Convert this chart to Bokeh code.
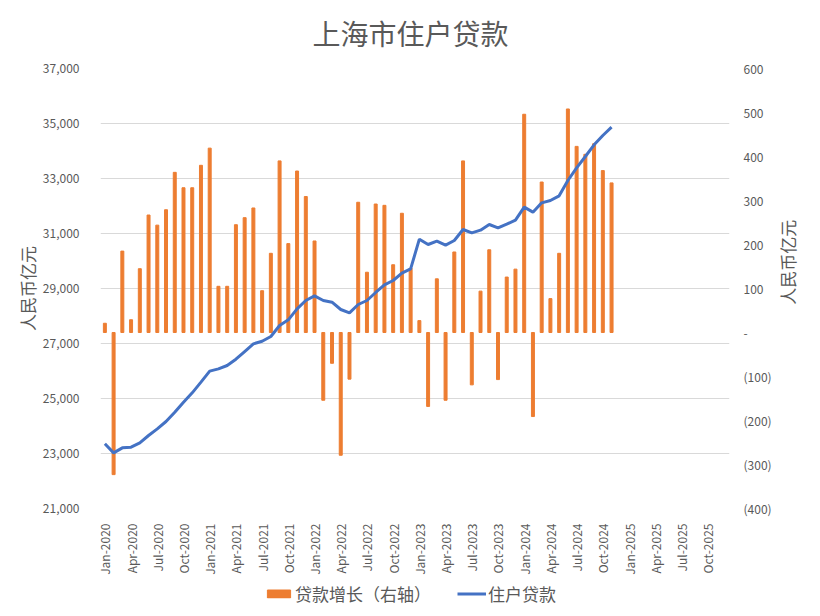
import math
from bokeh.plotting import figure
from bokeh.layouts import column, row
from bokeh.core.properties import value
from bokeh.models import (Range1d, LinearAxis, FixedTicker, Legend, LegendItem,
                          ColumnDataSource)
from bokeh.embed import file_html
from bokeh.resources import INLINE

# ---- data ----
months = [f"{m}-{y}" for y in range(2020, 2025) for m in
          ["Jan", "Feb", "Mar", "Apr", "May", "Jun", "Jul", "Aug", "Sep", "Oct", "Nov", "Dec"]][:59]
axis_months = [f"{m}-{y}" for y in range(2020, 2026) for m in
               ["Jan", "Feb", "Mar", "Apr", "May", "Jun", "Jul", "Aug", "Sep", "Oct", "Nov", "Dec"]]
tick_labels = ["Jan-2020", "Apr-2020", "Jul-2020", "Oct-2020",
               "Jan-2021", "Apr-2021", "Jul-2021", "Oct-2021",
               "Jan-2022", "Apr-2022", "Jul-2022", "Oct-2022",
               "Jan-2023", "Apr-2023", "Jul-2023", "Oct-2023",
               "Jan-2024", "Apr-2024", "Jul-2024", "Oct-2024",
               "Jan-2025", "Apr-2025", "Jul-2025", "Oct-2025"]

loan_growth = [21, -323, 185, 29, 145, 267, 244, 279, 364, 329, 329, 380,
               419, 105, 105, 245, 261, 283, 95, 180, 390, 202, 367, 309,
               208, -154, -70, -279, -106, 296, 137, 292, 289, 154, 271, 146,
               27, -168, 122, -154, 183, 390, -119, 94, 188, -107, 126, 144,
               496, -191, 342, 77, 180, 508, 423, 405, 429, 368, 340]

household_loans = [23352, 23024, 23206, 23230, 23388, 23655, 23897, 24164, 24503, 24867, 25206, 25594,
                   25994, 26079, 26200, 26430, 26709, 26988, 27080, 27255, 27655, 27861, 28261, 28564,
                   28733, 28564, 28503, 28236, 28115, 28418, 28564, 28855, 29133, 29291, 29558, 29715,
                   30794, 30600, 30721, 30576, 30745, 31145, 31024, 31121, 31327, 31206, 31339, 31485,
                   31958, 31776, 32115, 32200, 32370, 32927, 33388, 33800, 34224, 34564, 34867]

left_ticks = [21000, 23000, 25000, 27000, 29000, 31000, 33000, 35000, 37000]
right_ticks = [-400, -300, -200, -100, 0, 100, 200, 300, 400, 500, 600]

title_text = "上海市住户贷款"
axis_title = "人民币亿元"
series_names = ["贷款增长（右轴）", "住户贷款"]

# ---- styling ----
ORANGE = "#ED7D31"
BLUE = "#4472C4"
GREY = "#595959"
FONT = "Noto Sans CJK SC"


def strip(width, height):
    f = figure(width=width, height=height, output_backend="svg", toolbar_location=None,
               x_axis_location=None, y_axis_location=None,
               x_range=Range1d(0, width), y_range=Range1d(0, height),
               min_border_left=0, min_border_right=0, min_border_top=0, min_border_bottom=0)
    f.outline_line_color = None
    f.xgrid.grid_line_color = None
    f.ygrid.grid_line_color = None
    f.background_fill_color = "white"
    f.border_fill_color = "white"
    return f


# ---- title strip ----
HEAD_H = 58
hd = strip(820, HEAD_H)
hd.text(x=[410], y=[HEAD_H - 32], text=[title_text], text_align="center", text_baseline="middle",
        text_font=value(FONT), text_font_size="28px", text_color=GREY)

# ---- main chart ----
x_idx = [axis_months.index(m) for m in months]
src = ColumnDataSource(dict(x=x_idx, month=months, growth=loan_growth, loans=household_loans))

TOP_B, FRAME_H, BOT_B = 10, 440, 72
MAIN_H = TOP_B + FRAME_H + BOT_B
MAIN_W = 774
p = figure(width=MAIN_W, height=MAIN_H, output_backend="svg", toolbar_location=None,
           x_range=Range1d(-0.5, len(axis_months) - 0.5),
           y_range=Range1d(left_ticks[0], left_ticks[-1]),
           min_border_left=100, min_border_right=MAIN_W - 730,
           min_border_top=TOP_B, min_border_bottom=BOT_B)
p.outline_line_color = None
p.background_fill_color = "white"
p.border_fill_color = "white"

p.extra_y_ranges = {"right": Range1d(right_ticks[0], right_ticks[-1])}

bars = p.vbar(x="x", top="growth", bottom=0, width=0.34, source=src,
              color=ORANGE, y_range_name="right")
line = p.line(x="x", y="loans", source=src, line_color=BLUE, line_width=3)

# x axis
xa = p.xaxis[0]
xa.ticker = FixedTicker(ticks=[axis_months.index(t) for t in tick_labels])
xa.major_label_overrides = {axis_months.index(t): t for t in tick_labels}
xa.major_label_orientation = math.pi / 2
xa.major_label_text_font = FONT
xa.major_label_text_font_size = "12px"
xa.major_label_text_color = GREY
xa.axis_line_color = None
xa.major_tick_line_color = None
xa.minor_tick_line_color = None
xa.major_label_standoff = 9

# left axis
ya = p.yaxis[0]
ya.ticker = FixedTicker(ticks=left_ticks)
ya.major_label_overrides = {t: f"{t:,}" for t in left_ticks}
ya.axis_label = axis_title
ya.axis_label_text_font = FONT
ya.axis_label_text_font_size = "17px"
ya.axis_label_text_font_style = "normal"
ya.axis_label_text_color = GREY
ya.axis_label_standoff = 0
ya.major_label_text_font = FONT
ya.major_label_text_font_size = "12px"
ya.major_label_text_color = GREY
ya.axis_line_color = None
ya.major_tick_line_color = None
ya.minor_tick_line_color = None
ya.major_label_standoff = 15

# right axis
def fmt(v):
    if v == 0:
        return "-"
    return f"({abs(v)})" if v < 0 else str(v)

ra = LinearAxis(y_range_name="right", ticker=FixedTicker(ticks=right_ticks))
ra.major_label_overrides = {t: fmt(t) for t in right_ticks}
ra.major_label_text_font = FONT
ra.major_label_text_font_size = "12px"
ra.major_label_text_color = GREY
ra.axis_line_color = None
ra.major_tick_line_color = None
ra.minor_tick_line_color = None
ra.major_label_standoff = 8
p.add_layout(ra, "right")

p.xgrid.grid_line_color = None
p.ygrid.grid_line_color = "#D9D9D9"
p.ygrid.grid_line_width = 1

# ---- right axis title strip ----
RS_W = 820 - MAIN_W
rs = strip(RS_W, MAIN_H)
rs.text(x=[787 - MAIN_W], y=[MAIN_H - TOP_B - FRAME_H / 2], text=[axis_title], angle=math.pi / 2,
        text_align="center", text_baseline="middle",
        text_font=value(FONT), text_font_size="17px", text_color=GREY)

# ---- legend strip ----
lg = strip(820, 26)
lb = lg.vbar(x=[5000], top=[10], width=5, color=ORANGE)
ll = lg.line(x=[5000, 5100], y=[10, 10], line_color=BLUE, line_width=3)

legend = Legend(items=[LegendItem(label=series_names[0], renderers=[lb]),
                       LegendItem(label=series_names[1], renderers=[ll])],
                orientation="horizontal", location="center")
legend.label_text_font = FONT
legend.label_text_font_size = "17px"
legend.label_text_color = GREY
legend.glyph_width = 29
legend.glyph_height = 10
legend.label_standoff = 2
legend.spacing = 26
legend.border_line_color = None
legend.background_fill_alpha = 0
legend.padding = 0
legend.margin = 0
lg.add_layout(legend, "center")

layout = column(hd, row(p, rs, spacing=0), lg, spacing=0)
open("out.html", "w").write(file_html(layout, INLINE))
